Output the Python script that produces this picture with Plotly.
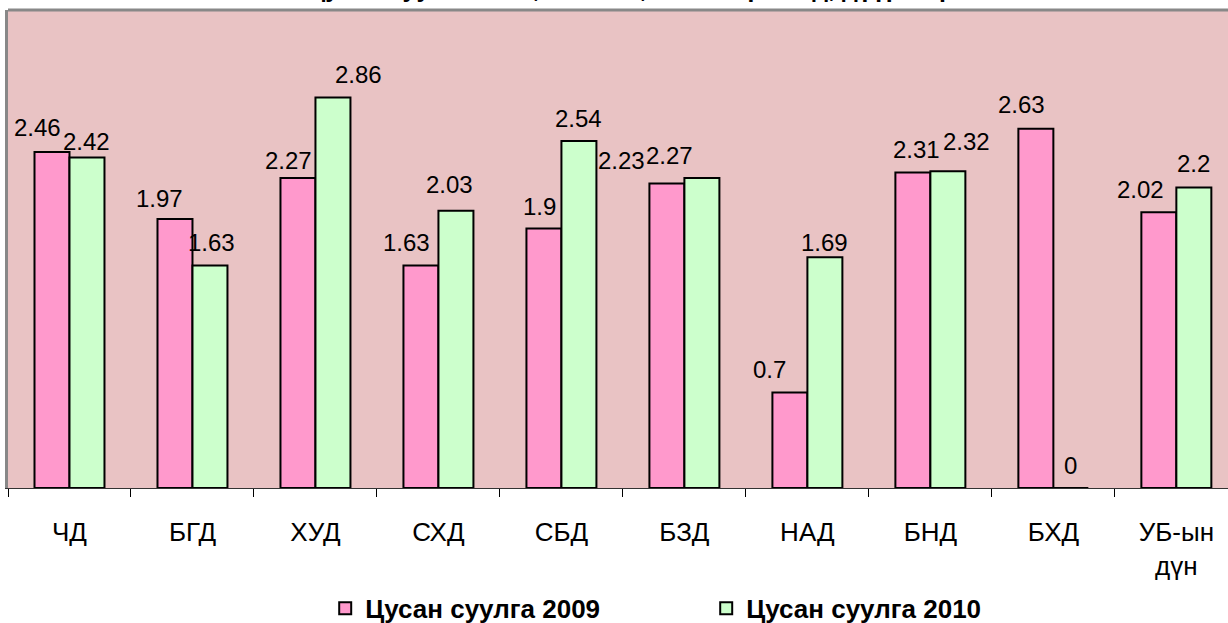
import plotly.graph_objects as go

categories = ["ЧД", "БГД", "ХУД", "СХД", "СБД", "БЗД", "НАД", "БНД", "БХД", "УБ-ын<br>дүн"]
values_2009 = [2.46, 1.97, 2.27, 1.63, 1.90, 2.23, 0.70, 2.31, 2.63, 2.02]
values_2010 = [2.42, 1.63, 2.86, 2.03, 2.54, 2.27, 1.69, 2.32, 0.00, 2.20]
labels_2009 = ["2.46", "1.97", "2.27", "1.63", "1.9", "2.23", "0.7", "2.31", "2.63", "2.02"]
labels_2010 = ["2.42", "1.63", "2.86", "2.03", "2.54", "2.27", "1.69", "2.32", "0", "2.2"]
series_names = ["Цусан суулга 2009", "Цусан суулга 2010"]
title_text = "Цусан суулга 2009, 2010 он, 10000 хүн амд, дүүргээр"

# label nudges in pixels (style only), as placed in the reference
label_dx_2009 = [-14, -15, -9, -14, -4, -45, -20, 4, -14, -18]
label_dy_2009 = [2, -2, -5, 0, 0, 0, 0, 1, 2, 0]
label_dx_2010 = [0, 2, 26, -6, 0, -32, 0, 19, 0, 0]
label_dy_2010 = [-6, 0, 0, 4, 0, 0, -8, 7, 0, 2]

FONT = "Arial, Liberation Sans, sans-serif"
PINK = "#FF99CC"
GREEN = "#CCFFCC"

fig = go.Figure()
fig.add_trace(go.Bar(x=categories, y=values_2009, name=series_names[0],
                     marker=dict(color=PINK, line=dict(color="black", width=2))))
fig.add_trace(go.Bar(x=categories, y=values_2010, name=series_names[1],
                     marker=dict(color=GREEN, line=dict(color="black", width=2))))

annotations = []
for c, v, t, dx, dy in zip(categories, values_2009, labels_2009, label_dx_2009, label_dy_2009):
    annotations.append(dict(x=c, y=v, text=t, showarrow=False, xref="x", yref="y",
                            xanchor="center", yanchor="bottom", xshift=-17.5 + dx, yshift=7 + dy,
                            font=dict(family=FONT, size=24, color="black")))
for c, v, t, dx, dy in zip(categories, values_2010, labels_2010, label_dx_2010, label_dy_2010):
    annotations.append(dict(x=c, y=v, text=t, showarrow=False, xref="x", yref="y",
                            xanchor="center", yanchor="bottom", xshift=17.5 + dx, yshift=7 + dy,
                            font=dict(family=FONT, size=24, color="black")))
annotations.append(dict(x=0.2434, y=1.046, xref="paper", yref="paper", text="<b>" + title_text + "</b>",
                        showarrow=False, xanchor="left", yanchor="middle",
                        font=dict(family=FONT, size=25, color="black")))

fig.update_layout(
    width=1228, height=623,
    margin=dict(l=8, r=0, t=10, b=135, autoexpand=False),
    paper_bgcolor="white",
    plot_bgcolor="#E9C3C4",
    barmode="group",
    bargap=0.431,
    bargroupgap=0,
    font=dict(family=FONT, size=24, color="black"),
    showlegend=True,
    legend=dict(orientation="h", x=0.260, xanchor="left", y=-0.252, yanchor="middle",
                entrywidth=336, entrywidthmode="pixels",
                font=dict(family=FONT, size=26, color="black", weight="bold"),
                bgcolor="rgba(0,0,0,0)"),
    annotations=annotations,
    shapes=[dict(type="line", xref="paper", yref="paper", x0=0, x1=1, y0=1, y1=1,
                 line=dict(color="#888888", width=3))],
)
fig.update_xaxes(type="category", range=[-0.5, 9.42], tickson="boundaries",
                 ticks="outside", ticklen=8, tickcolor="black", tickwidth=1,
                 showline=True, linecolor="#333333", linewidth=1,
                 showgrid=False, ticklabelstandoff=21, automargin=False,
                 tickfont=dict(family=FONT, size=26, color="black"))
fig.update_yaxes(range=[0, 3.5], showticklabels=False, showgrid=False, zeroline=False,
                 showline=True, linecolor="#888888", linewidth=3, ticks="", automargin=False)

fig.write_html("out.html",
               config={"displayModeBar": False},
               post_script="document.body.style.margin='0px';document.body.style.overflow='hidden';")
